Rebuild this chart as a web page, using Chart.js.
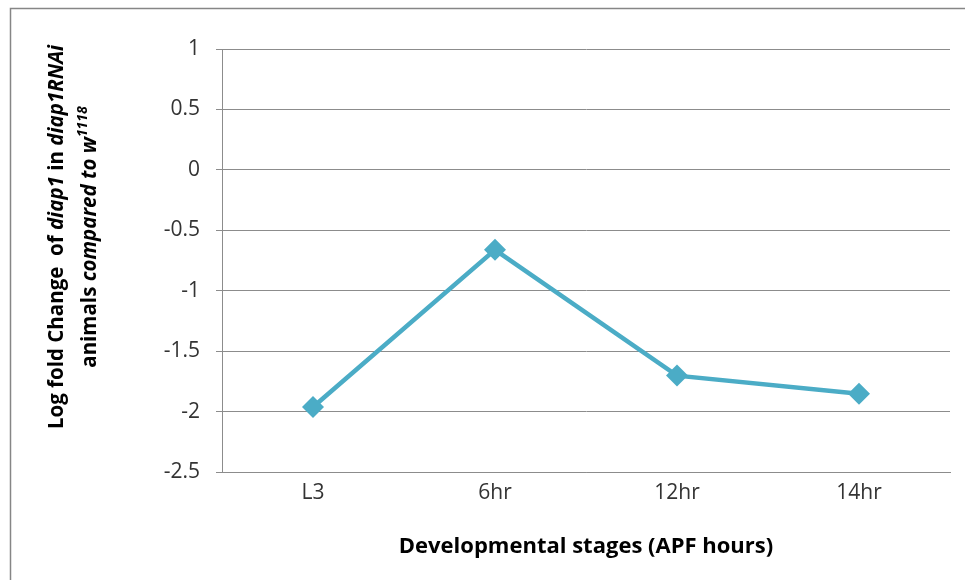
<!DOCTYPE html>
<html>
<head>
<meta charset="utf-8">
<script src="https://cdn.jsdelivr.net/npm/chart.js@4.4.1/dist/chart.umd.min.js"></script>
<style>
  html, body { margin: 0; padding: 0; background: #fff; }
  #wrap { width: 965px; height: 580px; position: relative; }
</style>
</head>
<body>
<div id="wrap"><canvas id="stage-chart"></canvas></div>
<script>
// data
var stages = ["L3", "6hr", "12hr", "14hr"];
var logFold = [-1.96, -0.66, -1.70, -1.85];
var yMin = -2.5;
var yMax = 1;
var yStep = 0.5;
var xTitle = "Developmental stages (APF hours)";

// y title pieces: [text, italic, superscript]
var yTitleLine1 = [["Log fold Change  of ", false, false], ["diap1", true, false], [" in ", false, false], ["diap1RNAi", true, false]];
var yTitleLine2 = [["animals ", false, false], ["compared to w", true, false], ["1118", true, true]];

var FONT = "Open Sans";
var lineColor = "#4BACC6";
var gridColor = "#8c8c8c";

// frame round the chart + rotated rich-text y title
var decorPlugin = {
    id: "decor",
    beforeDraw: function(chart) {
        var ctx = chart.ctx;
        ctx.save();
        ctx.strokeStyle = "#868686";
        ctx.lineWidth = 1.5;
        ctx.strokeRect(10.5, 8.5, 2000, 2000);
        ctx.restore();
    },
    afterDraw: function(chart) {
        var ctx = chart.ctx;
        var size = 20.5;
        function fontFor(part) {
            var s = part[2] ? Math.round(size * 0.7) : size;
            return (part[1] ? "italic " : "") + "bold " + s + "px '" + FONT + "'";
        }
        function widthOf(parts) {
            var w = 0;
            parts.forEach(function(p) { ctx.font = fontFor(p); w += ctx.measureText(p[0]).width; });
            return w;
        }
        function drawLine(parts, baseline) {
            var x = -widthOf(parts) / 2;
            parts.forEach(function(p) {
                ctx.font = fontFor(p);
                ctx.fillText(p[0], x, p[2] ? baseline - size * 0.45 : baseline);
                x += ctx.measureText(p[0]).width;
            });
        }
        ctx.save();
        ctx.fillStyle = "#000";
        ctx.textBaseline = "alphabetic";
        ctx.textAlign = "left";
        ctx.translate(0, 237);
        ctx.rotate(-Math.PI / 2);
        // after rotation, "down" on the text is +x on the page
        drawLine(yTitleLine1, 63);
        drawLine(yTitleLine2, 96);
        ctx.restore();
    }
};

var ctx = document.getElementById("stage-chart");
var lineChart = new Chart(ctx, {
    type: "line",
    data: {
        labels: stages,
        datasets: [{
            label: "Log fold change",
            data: logFold,
            borderColor: lineColor,
            backgroundColor: lineColor,
            borderWidth: 4.5,
            pointStyle: "rectRot",
            pointRadius: 11,
            pointBorderWidth: 0,
            pointBackgroundColor: lineColor,
            tension: 0
        }]
    },
    options: {
        responsive: true,
        maintainAspectRatio: false,
        animation: false,
        layout: { padding: { left: 0, right: 15, top: 49, bottom: 20 } },
        plugins: {
            legend: { display: false },
            tooltip: { enabled: false }
        },
        scales: {
            x: {
                offset: true,
                grid: { display: false },
                border: { display: true, color: gridColor },
                ticks: { color: "#333", font: { family: FONT, size: 21 }, padding: 0 },
                title: {
                    display: true,
                    text: xTitle,
                    color: "#000",
                    font: { family: FONT, size: 22, weight: "bold" },
                    padding: { top: 28, bottom: 0 }
                }
            },
            y: {
                min: yMin,
                max: yMax,
                ticks: {
                    stepSize: yStep,
                    color: "#333",
                    font: { family: FONT, size: 21 },
                    padding: 16,
                    callback: function(v) { return String(Math.round(v * 10) / 10); }
                },
                grid: { color: gridColor, tickLength: 6 },
                border: { color: gridColor },
                afterFit: function(scale) { scale.width = 222; }
            }
        }
    },
    plugins: [decorPlugin]
});
</script>
</body>
</html>
